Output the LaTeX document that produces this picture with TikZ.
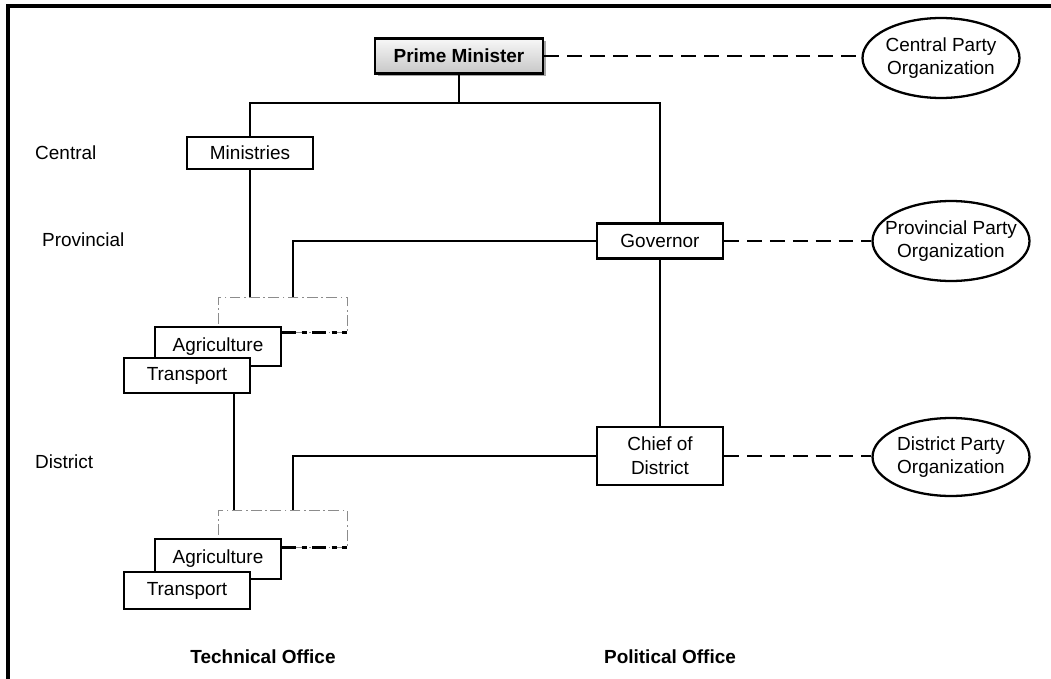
\documentclass[tikz,border=0pt]{standalone}
\usepackage{fontspec}
\setmainfont{Liberation Sans}
\usetikzlibrary{calc,positioning,shapes.geometric,shadows}

\begin{document}
\begin{tikzpicture}[x=0.02cm, y=-0.02cm,
    font=\fontsize{10.8}{13.5}\selectfont,
    office/.style={draw=black, line width=1.5pt, fill=white, minimum width=2.52cm,
                   inner sep=0pt, align=center},
    partyorg/.style={draw=black, line width=1.3pt, ellipse, fill=white, minimum width=3.14cm,
                     minimum height=1.6cm, inner xsep=-7pt, inner ysep=0pt, align=center},
    morebox/.style={draw=black!45, line width=0.5pt, dash pattern=on 6pt off 2pt on 1pt off 2pt,
                    minimum width=2.58cm, minimum height=0.7cm, inner sep=0pt},
    tier/.style={anchor=west},
    heading/.style={font=\fontsize{10.8}{13.5}\selectfont\bfseries},
    link/.style={line width=1.5pt},
    partylink/.style={line width=1.5pt, dash pattern=on 8.5pt off 4.5pt},
    morelink/.style={line width=1.5pt, dash pattern=on 8pt off 3pt on 3pt off 3pt}]

  \useasboundingbox (0,0) rectangle (1051,679);
  \draw[line width=1.8pt] (8,679) |- (1051,6);

  % political side
  \node[office, heading, minimum width=3.36cm, minimum height=0.7cm,
        top color=black!3, bottom color=black!22,
        drop shadow={shadow xshift=1.5pt, shadow yshift=-1.5pt, fill=black!35, opacity=1}]
        (pm) at (459,56) {Prime Minister};
  \node[office, minimum height=0.64cm] (ministries) at (250,153) {Ministries};
  \node[office, minimum height=0.7cm] (governor) at (660,241) {Governor};
  \node[office, minimum height=1.16cm] (chief) at (660,456) {Chief of\\District};

  \node[partyorg] (centralparty) at (941,58) {Central Party\\Organization};
  \node[partyorg] (provparty) at (951,241) {Provincial Party\\Organization};
  \node[partyorg, minimum height=1.56cm] (distparty) at (951,457) {District Party\\Organization};

  % technical side
  \node[morebox] (provmore) at (282.5,314.5) {};
  \node[office, minimum height=0.78cm] (provagri) at (218,346.5) {Agriculture};
  \node[office, minimum height=0.7cm] (provtrans) at (187,375.5) {Transport};

  \node[morebox, minimum height=0.74cm] (distmore) at (282.5,528.5) {};
  \node[office, minimum height=0.8cm] (distagri) at (218,559) {Agriculture};
  \node[office, minimum height=0.74cm] (disttrans) at (187,590.5) {Transport};

  \node[tier] (central) at (29,153) {Central};
  \node[tier] (provincial) at (36,240) {Provincial};
  \node[tier] (district) at (29,462) {District};

  \node[heading] (technical) at (263,657) {Technical Office};
  \node[heading] (political) at (670,657) {Political Office};

  % connectors
  \coordinate (pmjoin) at (459,103);
  \draw[link] (pm.south) -- (pmjoin);
  \draw[link] (ministries.north) |- (pmjoin) -| (governor.north);
  \draw[link] (governor.south) -- (chief.north);
  \draw[link] (ministries.south) -- (ministries.south |- provmore.north);
  \draw[link] (governor.west) -| ([xshift=0.21cm]provmore.north);
  \path (provtrans.south) ++(47,0) coordinate (provdrop);
  \draw[link] (provdrop) -- (provdrop |- distmore.north);
  \draw[link] (chief.west) -| ([xshift=0.21cm]distmore.north);

  \draw[morelink] (provagri.north east |- provmore.south) -- (provmore.south east);
  \draw[morelink] (distagri.north east |- distmore.south) -- (distmore.south east);

  \draw[partylink] (pm.east) -- (pm.east -| centralparty.west);
  \draw[partylink] (governor.east) -- (governor.east -| provparty.west);
  \draw[partylink] (chief.east) -- (chief.east -| distparty.west);
\end{tikzpicture}
\end{document}
